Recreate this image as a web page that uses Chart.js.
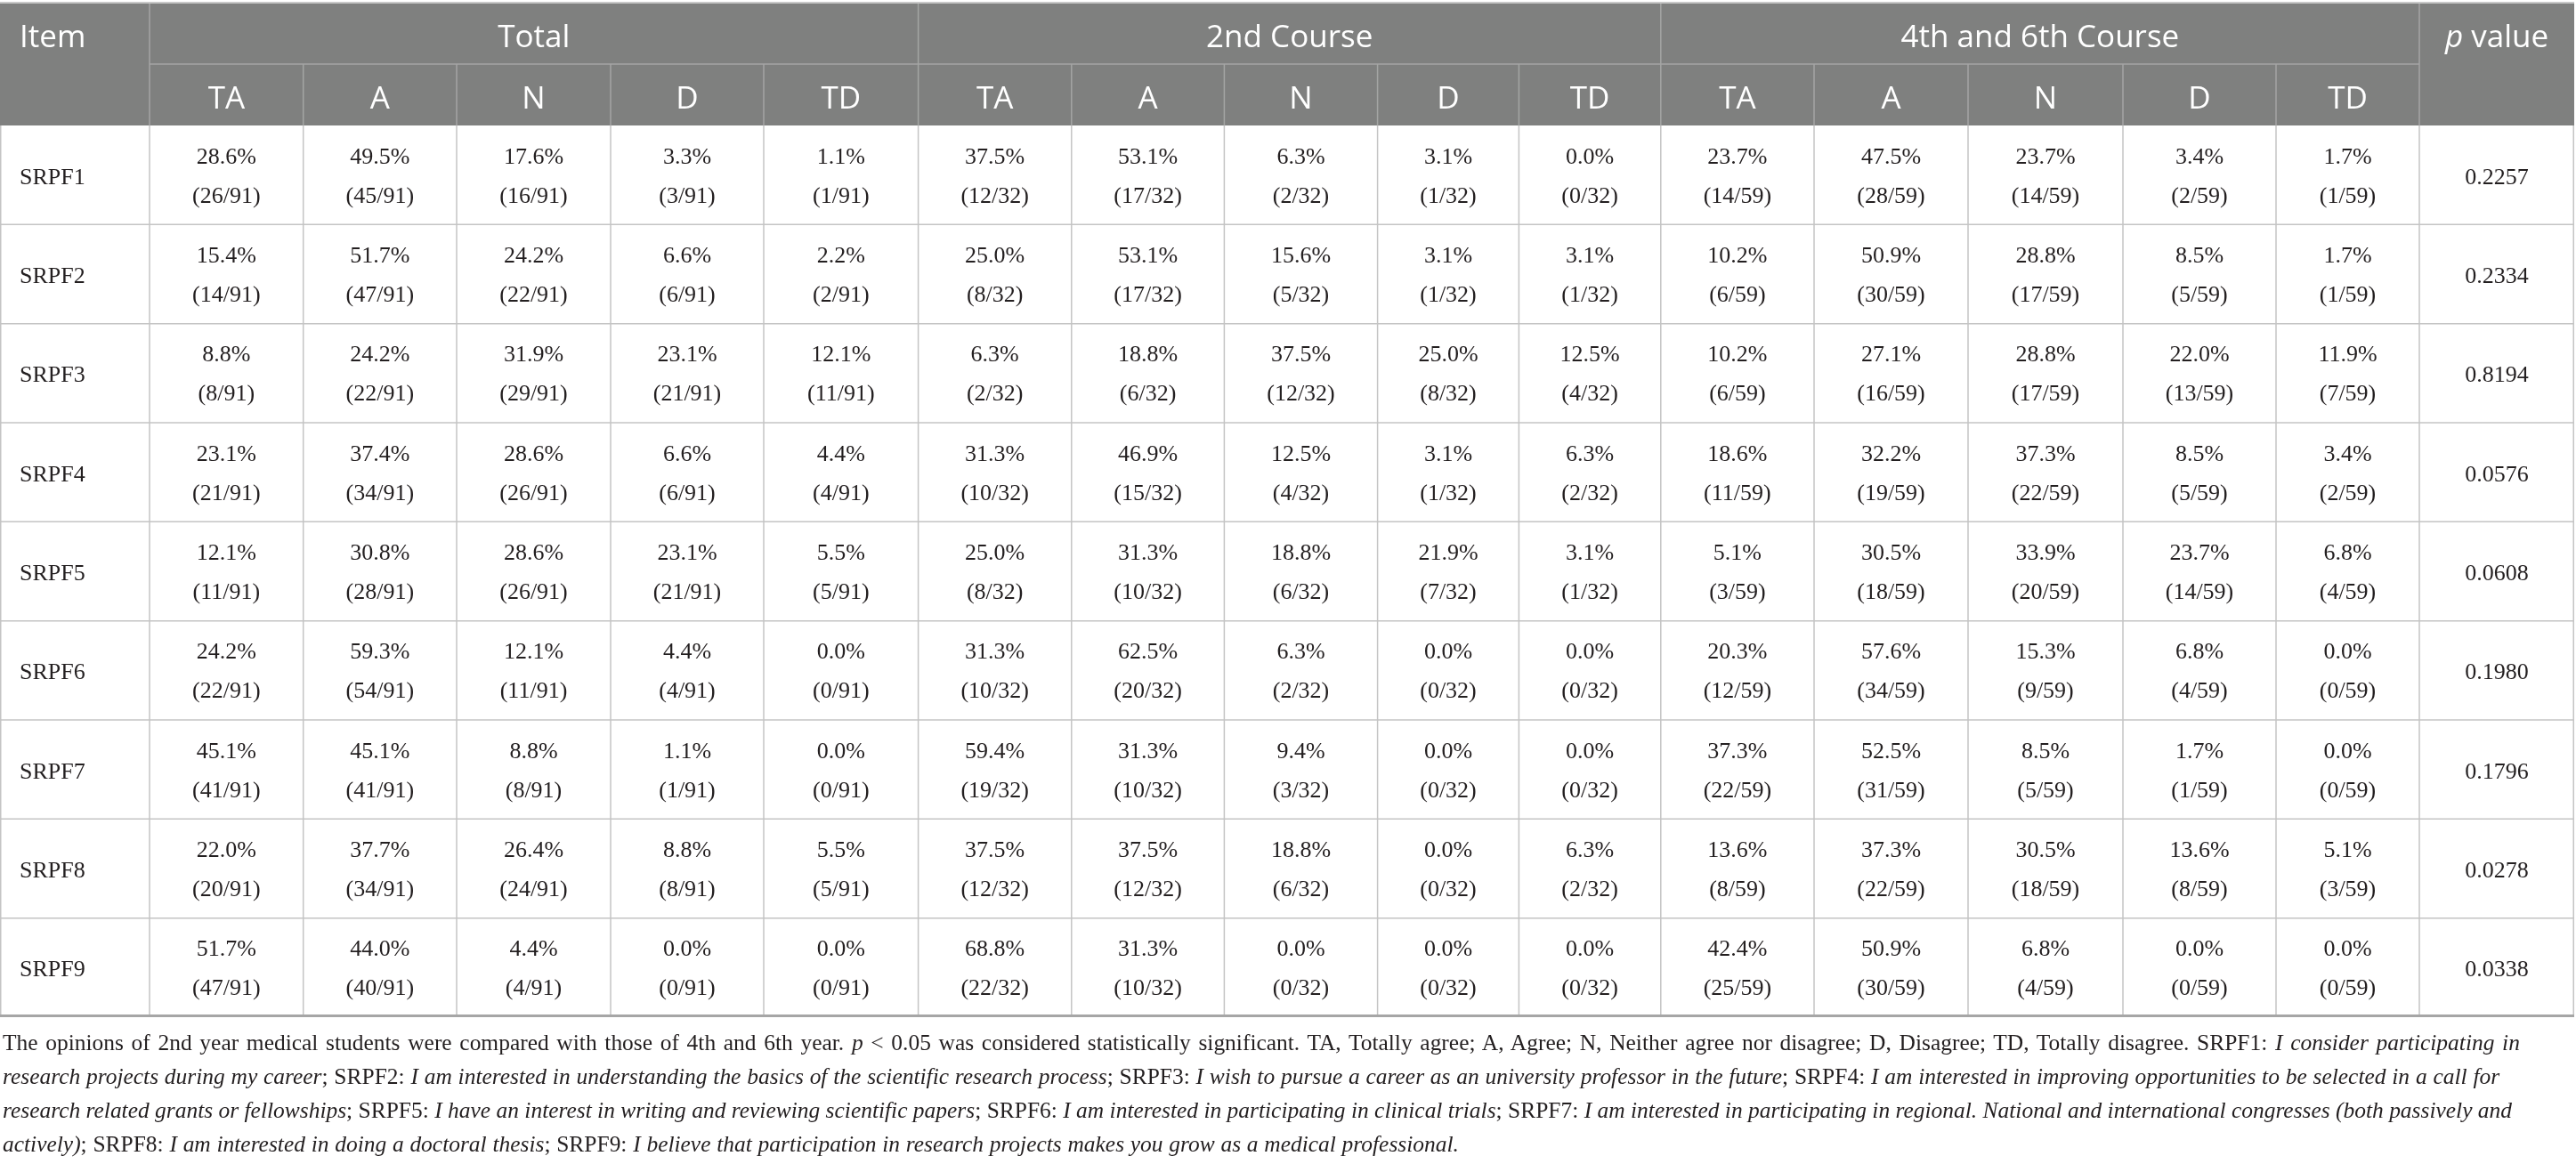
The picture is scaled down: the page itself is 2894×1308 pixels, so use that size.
<!DOCTYPE html>
<html>
<head>
<meta charset="utf-8">
<script src="https://cdn.jsdelivr.net/npm/chart.js@4.4.1/dist/chart.umd.min.js"></script>
<style>
html, body { margin: 0; padding: 0; background: #fff; }
#wrap { position: relative; width: 2894px; height: 1308px; }
#note {
    position: absolute; left: 3px; top: 1153px;
    font-family: "Liberation Serif", "DejaVu Serif", serif;
    font-size: 25px; line-height: 38px; color: #231f20; white-space: nowrap;
}
</style>
</head>
<body>
<div id="wrap">
<canvas id="tbl"></canvas>
<div id="note"><span class="ln">The opinions of 2nd year medical students were compared with those of 4th and 6th year. <i>p</i> &lt; 0.05 was considered statistically significant. TA, Totally agree; A, Agree; N, Neither agree nor disagree; D, Disagree; TD, Totally disagree. SRPF1: <i>I consider participating in</i></span><br><span class="ln"><i>research projects during my career</i>; SRPF2: <i>I am interested in understanding the basics of the scientific research process</i>; SRPF3: <i>I wish to pursue a career as an university professor in the future</i>; SRPF4: <i>I am interested in improving opportunities to be selected in a call for</i></span><br><span class="ln"><i>research related grants or fellowships</i>; SRPF5: <i>I have an interest in writing and reviewing scientific papers</i>; SRPF6: <i>I am interested in participating in clinical trials</i>; SRPF7: <i>I am interested in participating in regional. National and international congresses (both passively and</i></span><br><span class="ln"><i>actively)</i>; SRPF8: <i>I am interested in doing a doctoral thesis</i>; SRPF9: <i>I believe that participation in research projects makes you grow as a medical professional.</i></span></div>
</div>
<script>
// Table data
const items = ['SRPF1', 'SRPF2', 'SRPF3', 'SRPF4', 'SRPF5', 'SRPF6', 'SRPF7', 'SRPF8', 'SRPF9'];
const groups = ['Total', '2nd Course', '4th and 6th Course'];
const levels = ['TA', 'A', 'N', 'D', 'TD'];
const groupN = [91, 32, 59];

// Total (n = 91)
const totalPct = [
    [28.6, 49.5, 17.6, 3.3, 1.1],
    [15.4, 51.7, 24.2, 6.6, 2.2],
    [8.8, 24.2, 31.9, 23.1, 12.1],
    [23.1, 37.4, 28.6, 6.6, 4.4],
    [12.1, 30.8, 28.6, 23.1, 5.5],
    [24.2, 59.3, 12.1, 4.4, 0.0],
    [45.1, 45.1, 8.8, 1.1, 0.0],
    [22.0, 37.7, 26.4, 8.8, 5.5],
    [51.7, 44.0, 4.4, 0.0, 0.0]
];
const totalCount = [
    [26, 45, 16, 3, 1],
    [14, 47, 22, 6, 2],
    [8, 22, 29, 21, 11],
    [21, 34, 26, 6, 4],
    [11, 28, 26, 21, 5],
    [22, 54, 11, 4, 0],
    [41, 41, 8, 1, 0],
    [20, 34, 24, 8, 5],
    [47, 40, 4, 0, 0]
];

// 2nd course (n = 32)
const secondPct = [
    [37.5, 53.1, 6.3, 3.1, 0.0],
    [25.0, 53.1, 15.6, 3.1, 3.1],
    [6.3, 18.8, 37.5, 25.0, 12.5],
    [31.3, 46.9, 12.5, 3.1, 6.3],
    [25.0, 31.3, 18.8, 21.9, 3.1],
    [31.3, 62.5, 6.3, 0.0, 0.0],
    [59.4, 31.3, 9.4, 0.0, 0.0],
    [37.5, 37.5, 18.8, 0.0, 6.3],
    [68.8, 31.3, 0.0, 0.0, 0.0]
];
const secondCount = [
    [12, 17, 2, 1, 0],
    [8, 17, 5, 1, 1],
    [2, 6, 12, 8, 4],
    [10, 15, 4, 1, 2],
    [8, 10, 6, 7, 1],
    [10, 20, 2, 0, 0],
    [19, 10, 3, 0, 0],
    [12, 12, 6, 0, 2],
    [22, 10, 0, 0, 0]
];

// 4th and 6th course (n = 59)
const laterPct = [
    [23.7, 47.5, 23.7, 3.4, 1.7],
    [10.2, 50.9, 28.8, 8.5, 1.7],
    [10.2, 27.1, 28.8, 22.0, 11.9],
    [18.6, 32.2, 37.3, 8.5, 3.4],
    [5.1, 30.5, 33.9, 23.7, 6.8],
    [20.3, 57.6, 15.3, 6.8, 0.0],
    [37.3, 52.5, 8.5, 1.7, 0.0],
    [13.6, 37.3, 30.5, 13.6, 5.1],
    [42.4, 50.9, 6.8, 0.0, 0.0]
];
const laterCount = [
    [14, 28, 14, 2, 1],
    [6, 30, 17, 5, 1],
    [6, 16, 17, 13, 7],
    [11, 19, 22, 5, 2],
    [3, 18, 20, 14, 4],
    [12, 34, 9, 4, 0],
    [22, 31, 5, 1, 0],
    [8, 22, 18, 8, 3],
    [25, 30, 4, 0, 0]
];

const pValues = ['0.2257', '0.2334', '0.8194', '0.0576', '0.0608', '0.1980', '0.1796', '0.0278', '0.0338'];

// Layout (table units = px)
const COL_EDGES = [0, 168, 340.7, 513, 686, 858, 1031.6, 1203.8, 1375.4, 1547.6, 1706.4, 1865.8, 2038, 2211, 2385, 2557, 2718, 2892];
const HEAD_SPLIT = 68;
const HEAD_H = 137;
const BODY_ROW_H = 111.33;
const TABLE_H = HEAD_H + BODY_ROW_H * items.length;
const ITEM_PAD = 22;
const NOTE_WIDTHS = [2828, 2805, 2819, 1636]; // caption line lengths in the original

const HEAD_BG = '#7f807f';
const HEAD_LINE = '#a4a5a4';
const BODY_LINE = '#c4c4c4';
const TEXT_DARK = '#231f20';
const SANS = '"Open Sans", "Noto Sans", sans-serif';
const SERIF = '"Liberation Serif", "DejaVu Serif", serif';

const pctBy = [totalPct, secondPct, laterPct];
const cntBy = [totalCount, secondCount, laterCount];

// one anchor point per cell, placed through the chart scales
const anchors = [];
items.forEach((item, r) => {
    for (let c = 0; c < COL_EDGES.length - 1; c++) {
        anchors.push({
            x: c === 0 ? COL_EDGES[0] + ITEM_PAD : (COL_EDGES[c] + COL_EDGES[c + 1]) / 2,
            y: HEAD_H + BODY_ROW_H * (r + 0.5),
            row: r,
            col: c
        });
    }
});

function cellText(r, c) {
    if (c === 0) return [items[r]];
    if (c === COL_EDGES.length - 2) return [pValues[r]];
    const g = Math.floor((c - 1) / levels.length);
    const k = (c - 1) % levels.length;
    return [pctBy[g][r][k].toFixed(1) + '%', '(' + cntBy[g][r][k] + '/' + groupN[g] + ')'];
}

function line(ctx, x1, y1, x2, y2) {
    ctx.beginPath();
    ctx.moveTo(x1, y1);
    ctx.lineTo(x2, y2);
    ctx.stroke();
}

const tablePlugin = {
    id: 'tableDraw',
    beforeDatasetsDraw(chart) {
        const ctx = chart.ctx;
        const X = v => chart.scales.x.getPixelForValue(v);
        const Y = v => chart.scales.y.getPixelForValue(v);
        const last = COL_EDGES.length - 1;
        ctx.save();

        // header block
        ctx.fillStyle = HEAD_BG;
        ctx.fillRect(X(0), Y(0), X(COL_EDGES[last]) - X(0), Y(HEAD_H) - Y(0));

        ctx.strokeStyle = '#c8c8c8';
        ctx.lineWidth = 2;
        line(ctx, X(0), Y(0) - 1, X(COL_EDGES[last]), Y(0) - 1);

        ctx.strokeStyle = HEAD_LINE;
        ctx.lineWidth = 1.5;
        line(ctx, X(COL_EDGES[1]), Y(HEAD_SPLIT), X(COL_EDGES[last - 1]), Y(HEAD_SPLIT));
        for (let c = 1; c < last; c++) {
            const full = c === 1 || c === last - 1 || (c - 1) % levels.length === 0;
            line(ctx, X(COL_EDGES[c]), Y(full ? 0 : HEAD_SPLIT), X(COL_EDGES[c]), Y(HEAD_H));
        }

        // body grid
        ctx.strokeStyle = BODY_LINE;
        ctx.lineWidth = 1.5;
        for (let r = 1; r < items.length; r++) {
            const y = Y(HEAD_H + BODY_ROW_H * r);
            line(ctx, X(0), y, X(COL_EDGES[last]), y);
        }
        for (let c = 0; c <= last; c++) {
            let x = X(COL_EDGES[c]);
            if (c === 0) x += 0.75;
            if (c === last) x -= 0.75;
            line(ctx, x, Y(HEAD_H), x, Y(TABLE_H));
        }
        ctx.strokeStyle = '#a6a6a6';
        ctx.lineWidth = 3;
        line(ctx, X(0), Y(TABLE_H) - 1.5, X(COL_EDGES[last]), Y(TABLE_H) - 1.5);

        // header text
        ctx.fillStyle = '#ffffff';
        ctx.font = '35px ' + SANS;
        ctx.textBaseline = 'alphabetic';
        ctx.textAlign = 'left';
        ctx.fillText('Item', X(0) + ITEM_PAD, Y(49));
        ctx.textAlign = 'center';
        groups.forEach((g, i) => {
            const a = COL_EDGES[1 + i * levels.length];
            const b = COL_EDGES[1 + (i + 1) * levels.length];
            ctx.fillText(g, (X(a) + X(b)) / 2, Y(49));
            levels.forEach((lv, k) => {
                const c = 1 + i * levels.length + k;
                ctx.fillText(lv, (X(COL_EDGES[c]) + X(COL_EDGES[c + 1])) / 2, Y(HEAD_SPLIT + 50));
            });
        });
        // "p value" with italic p
        const pc = (X(COL_EDGES[last - 1]) + X(COL_EDGES[last])) / 2;
        ctx.textAlign = 'left';
        ctx.font = 'italic 35px ' + SANS;
        const wp = ctx.measureText('p').width;
        ctx.font = '35px ' + SANS;
        const wv = ctx.measureText(' value').width;
        const x0 = pc - (wp + wv) / 2;
        ctx.font = 'italic 35px ' + SANS;
        ctx.fillText('p', x0, Y(49));
        ctx.font = '35px ' + SANS;
        ctx.fillText(' value', x0 + wp, Y(49));
        ctx.restore();
    },
    afterDatasetsDraw(chart) {
        const ctx = chart.ctx;
        const meta = chart.getDatasetMeta(0);
        const raw = chart.data.datasets[0].data;
        ctx.save();
        ctx.fillStyle = TEXT_DARK;
        ctx.font = '26px ' + SERIF;
        ctx.textBaseline = 'alphabetic';
        meta.data.forEach((pt, i) => {
            const a = raw[i];
            const txt = cellText(a.row, a.col);
            ctx.textAlign = a.col === 0 ? 'left' : 'center';
            if (txt.length === 1) {
                ctx.fillText(txt[0], pt.x, pt.y + 10);
            } else {
                ctx.fillText(txt[0], pt.x, pt.y - 13);
                ctx.fillText(txt[1], pt.x, pt.y + 31);
            }
        });
        ctx.restore();
    }
};

new Chart(document.getElementById('tbl'), {
    type: 'scatter',
    data: {
        datasets: [{
            data: anchors,
            pointRadius: 0,
            pointHoverRadius: 0,
            showLine: false
        }]
    },
    options: {
        responsive: true,
        maintainAspectRatio: false,
        animation: false,
        events: [],
        layout: { padding: { left: 0, right: 2, top: 4, bottom: 1308 - 4 - TABLE_H } },
        plugins: { legend: { display: false }, tooltip: { enabled: false } },
        scales: {
            x: { type: 'linear', display: false, min: 0, max: COL_EDGES[COL_EDGES.length - 1] },
            y: { type: 'linear', display: false, reverse: true, min: 0, max: TABLE_H }
        }
    },
    plugins: [tablePlugin]
});

// fit the caption: size from the widest line, then spread words per line
const note = document.getElementById('note');
const spans = Array.from(note.querySelectorAll('.ln'));
let ratio = Infinity;
spans.forEach((s, i) => {
    ratio = Math.min(ratio, NOTE_WIDTHS[i] / s.getBoundingClientRect().width);
});
note.style.fontSize = (25 * ratio).toFixed(2) + 'px';
spans.forEach((s, i) => {
    const w = s.getBoundingClientRect().width;
    const gaps = (s.textContent.match(/ /g) || []).length;
    if (gaps > 0 && w < NOTE_WIDTHS[i]) {
        s.style.wordSpacing = ((NOTE_WIDTHS[i] - w) / gaps).toFixed(2) + 'px';
    }
});
</script>
</body>
</html>
